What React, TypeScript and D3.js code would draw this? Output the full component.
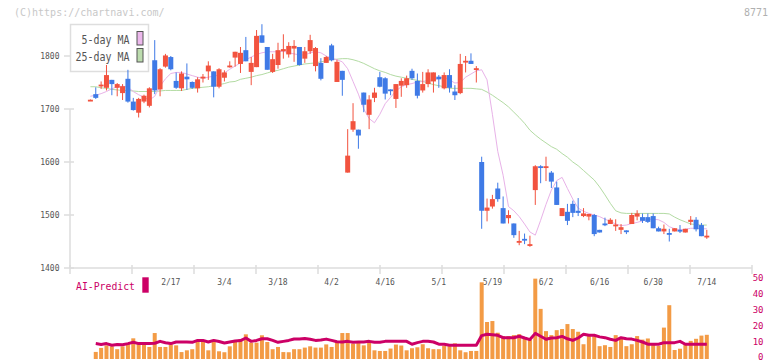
import React, { useEffect, useRef } from 'react';
import * as d3 from 'd3';

// date labels under the price panel, and the candle index each one sits on
const dateLabels = ['2/17', '3/4', '3/18', '4/2', '4/16', '5/1', '5/19', '6/2', '6/16', '6/30', '7/14'];
const dateIndex = [15, 25, 35, 45, 55, 65, 75, 85, 95, 105, 115];

const priceTicks = [1400, 1500, 1600, 1700, 1800];
const volumeTicks = [0, 10, 20, 30, 40, 50];

const opens = [
  1716.5, 1728, 1745, 1740, 1755, 1740, 1730, 1757, 1714, 1693, 1714, 1706, 1792, 1737, 1780, 1798, 1753, 1739, 1761, 1751,
  1739, 1759, 1771, 1771, 1742, 1759, 1780, 1797, 1785, 1811, 1770, 1779, 1839, 1817, 1770, 1783, 1809, 1803, 1814, 1817,
  1795, 1809, 1781, 1787, 1787, 1820, 1751, 1772, 1580, 1661, 1661, 1731, 1689, 1721, 1760, 1758, 1737, 1719, 1744, 1745,
  1772, 1753, 1735, 1747, 1752, 1761, 1739, 1764, 1733, 1730, 1788, 1791, 1774, 1600, 1508, 1516, 1550, 1513, 1494, 1484,
  1448, 1455, 1442, 1547, 1592, 1589, 1580, 1552, 1498, 1506, 1521, 1508, 1498, 1497, 1500, 1472, 1484, 1483, 1480, 1472,
  1471, 1483, 1497, 1496, 1496, 1498, 1475, 1469, 1466, 1469, 1472, 1467, 1487, 1491, 1481, 1459,
];
const highs = [
  1718, 1741, 1752, 1783, 1755, 1749, 1747, 1774, 1721, 1721, 1727, 1741, 1830, 1777, 1804, 1800, 1769, 1771, 1786, 1752,
  1760, 1766, 1790, 1771, 1777, 1773, 1790, 1808, 1817, 1836, 1798, 1849, 1860, 1817, 1804, 1825, 1841, 1826, 1830, 1817,
  1817, 1840, 1817, 1796, 1800, 1823, 1793, 1772, 1662, 1711, 1661, 1731, 1726, 1740, 1770, 1760, 1737, 1747, 1758, 1763,
  1776, 1767, 1770, 1775, 1769, 1764, 1769, 1775, 1745, 1804, 1800, 1805, 1781, 1610, 1531, 1538, 1561, 1535, 1509, 1484,
  1470, 1465, 1461, 1594, 1594, 1610, 1583, 1563, 1513, 1521, 1527, 1532, 1513, 1502, 1502, 1472, 1495, 1494, 1492, 1483,
  1471, 1504, 1509, 1503, 1503, 1503, 1478, 1482, 1474, 1475, 1481, 1474, 1498, 1496, 1485, 1472,
];
const lows = [
  1716, 1719, 1738, 1735, 1726, 1724, 1717, 1712, 1697, 1684, 1711, 1703, 1728, 1724, 1778, 1773, 1738, 1734, 1736, 1738,
  1731, 1750, 1755, 1722, 1739, 1752, 1778, 1780, 1768, 1790, 1745, 1779, 1825, 1774, 1768, 1776, 1795, 1797, 1789, 1782,
  1787, 1804, 1771, 1754, 1787, 1790, 1751, 1725, 1580, 1657, 1625, 1694, 1662, 1713, 1741, 1718, 1726, 1702, 1723, 1740,
  1755, 1720, 1731, 1741, 1731, 1740, 1737, 1731, 1717, 1728, 1769, 1785, 1750, 1474, 1488, 1512, 1525, 1484, 1484, 1457,
  1443, 1445, 1440, 1519, 1560, 1564, 1551, 1519, 1498, 1481, 1496, 1498, 1496, 1490, 1460, 1467, 1479, 1483, 1470, 1464,
  1464, 1483, 1490, 1485, 1485, 1475, 1469, 1464, 1450, 1469, 1466, 1467, 1481, 1469, 1460, 1455,
];
const closes = [
  1717.5, 1721, 1746, 1764, 1747, 1747, 1743, 1714, 1698, 1719, 1725, 1739, 1735, 1775, 1801, 1775, 1740, 1767, 1756, 1740,
  1756, 1761, 1782, 1742, 1775, 1769, 1782, 1808, 1806, 1790, 1787, 1838, 1825, 1774, 1794, 1811, 1813, 1819, 1819, 1783,
  1809, 1830, 1815, 1757, 1798, 1792, 1789, 1755, 1612, 1677, 1650, 1708, 1718, 1731, 1742, 1729, 1734, 1747, 1753, 1758,
  1758, 1725, 1747, 1769, 1769, 1756, 1764, 1740, 1726, 1785, 1791, 1785, 1777, 1508, 1514, 1530, 1530, 1484, 1500, 1462,
  1451, 1452, 1445, 1592, 1589, 1592, 1563, 1519, 1513, 1489, 1504, 1504, 1503, 1502, 1464, 1467, 1481, 1491, 1482, 1477,
  1470, 1500, 1503, 1489, 1487, 1475, 1469, 1474, 1464, 1475, 1469, 1474, 1491, 1473, 1460, 1461,
];

const ma5 = [
  1724, 1726, 1729, 1733, 1738, 1742, 1743, 1741, 1733, 1727, 1722, 1717, 1724, 1743, 1757, 1767, 1769, 1769, 1766, 1763,
  1760, 1758, 1760, 1762, 1764, 1768, 1775, 1781, 1787, 1793, 1798, 1803, 1806, 1808, 1808, 1808, 1809, 1806, 1804, 1802,
  1802, 1806, 1808, 1806, 1800, 1796, 1793, 1789, 1776, 1752, 1728, 1700, 1682, 1674, 1690, 1710, 1722, 1734, 1742, 1746,
  1748, 1751, 1752, 1754, 1755, 1758, 1760, 1755, 1749, 1750, 1760, 1766, 1772, 1774, 1755, 1690, 1620, 1575, 1516, 1508,
  1497, 1483, 1468, 1462, 1490, 1520, 1547, 1565, 1571, 1550, 1530, 1513, 1507, 1503, 1500, 1497, 1492, 1488, 1483, 1480,
  1481, 1484, 1486, 1489, 1492, 1492, 1491, 1486, 1478, 1474, 1472, 1473, 1475, 1475, 1474, 1474,
];
const ma25 = [
  1742, 1742, 1740, 1739, 1737, 1736, 1735, 1735, 1734, 1733, 1733, 1733, 1733, 1734, 1735, 1735, 1735, 1735, 1737, 1739,
  1740, 1741, 1742, 1744, 1746, 1748, 1751, 1752, 1756, 1758, 1760, 1763, 1765, 1768, 1771, 1773, 1776, 1779, 1781, 1783,
  1785, 1786, 1787, 1789, 1791, 1793, 1794, 1795, 1795, 1793, 1790, 1786, 1781, 1776, 1772, 1769, 1765, 1762, 1760, 1758,
  1756, 1754, 1752, 1749, 1746, 1744, 1742, 1739, 1739, 1739, 1739, 1739, 1738, 1737, 1732, 1726, 1719, 1712, 1704, 1694,
  1684, 1673, 1660, 1651, 1643, 1636, 1629, 1624, 1616, 1609, 1600, 1593, 1584, 1575, 1566, 1553, 1538, 1522, 1508, 1504,
  1503, 1503, 1503, 1503, 1503, 1503, 1503, 1503, 1502, 1496, 1491, 1487, 1483, 1482, 1481, 1481,
];

// lower panel, read on the 0-50 right axis
const volume = [
  null, 3.8, 6.3, 7.9, 7.3, 5.5, 7.3, 9.0, 12.3, 9.0, 9.0, 6.9, 15.6, 6.9, 6.9, 8.5, 7.9, 3.7, 4.8, 5.5,
  10.0, 10.4, 4.8, 10.4, 4.2, 3.6, 7.3, 10.4, 11.7, 14.8, 9.6, 9.6, 14.2, 10.0, 5.5, 6.9, 3.7, 3.6, 5.5, 5.5,
  6.5, 7.3, 6.5, 6.5, 8.5, 6.9, 10.0, 15.6, 15.6, 9.0, 10.4, 7.9, 9.4, 4.8, 4.4, 4.4, 5.9, 8.4, 7.8, 4.8,
  6.1, 6.7, 8.6, 6.1, 5.5, 5.5, 7.6, 7.4, 9.2, 4.8, 3.6, 4.4, 4.4, 47.3, 22.5, 23.1, 15.8, 13.7, 13.7, 14.3,
  14.9, 12.2, 11.3, 49.6, 30.7, 16.8, 14.3, 17.4, 18.1, 21.2, 18.1, 16.4, 8.6, 13.7, 13.7, 7.4, 8.0, 6.9, 14.3, 12.6,
  7.4, 8.6, 13.7, 11.5, 12.2, 8.5, 7.5, 19.0, 33.0, 5.0, 5.8, 9.0, 10.7, 12.0, 14.0, 14.5,
];
const aiPredict = [
  null, 9.0, 8.5, 9.0, 8.0, 8.5, 8.3, 9.0, 9.8, 9.0, 9.0, 9.0, 9.2, 10.4, 9.5, 9.0, 10.0, 10.0, 10.0, 9.8,
  11.0, 11.0, 10.0, 11.0, 10.3, 9.4, 10.0, 10.6, 10.9, 12.5, 10.4, 11.0, 12.0, 12.0, 11.0, 9.8, 10.4, 11.0, 11.9, 11.9,
  12.2, 11.7, 11.0, 11.2, 11.8, 11.0, 10.2, 10.0, 10.4, 9.8, 10.0, 10.0, 10.4, 9.8, 9.8, 10.4, 10.4, 10.4, 10.4, 10.4,
  8.6, 9.6, 10.4, 10.4, 10.0, 8.6, 8.6, 8.0, 8.0, 8.0, 8.0, 8.0, 8.0, 14.0, 14.8, 14.5, 14.2, 12.7, 12.7, 12.7,
  13.6, 12.5, 11.5, 15.4, 13.6, 11.7, 12.5, 12.7, 13.5, 12.0, 11.0, 12.5, 14.8, 14.2, 14.2, 13.2, 12.7, 11.7, 11.0, 12.7,
  12.0, 11.8, 11.0, 10.0, 8.6, 8.6, 8.6, 9.6, 9.6, 9.6, 10.4, 8.6, 8.6, 8.6, 8.6, 8.6,
];

const UP = '#f2533f';
const DOWN = '#3f7ae6';
const FONT = "'DejaVu Sans Mono', monospace";

const App = () => {
  const svgRef = useRef<SVGSVGElement>(null);

  useEffect(() => {
    const svg = d3.select(svgRef.current);
    svg.selectAll('*').remove();

    const n = closes.length;
    const idx = d3.range(n);

    const x = d3.scaleLinear().domain([0, n - 1]).range([90.4, 706.8]);
    const y = d3.scaleLinear().domain([1400, 1800]).range([268, 56]);
    const yv = d3.scaleLinear().domain([0, 50]).range([358, 278]);
    // evenly spaced x ticks along the bottom axis
    const xt = d3.scaleLinear().domain([0, 11]).range([70, 752]);

    svg.append('rect').attr('width', 772).attr('height', 361).attr('fill', '#fff');

    // header texts
    svg.append('text').attr('x', 14).attr('y', 16).attr('font-size', 10).attr('fill', '#c8c8c8')
      .attr('font-family', FONT).text('(C)https://chartnavi.com/');
    svg.append('text').attr('x', 768).attr('y', 16).attr('font-size', 10).attr('fill', '#b0b0b0')
      .attr('text-anchor', 'end').attr('font-family', FONT).text('8771');

    // axes
    svg.append('line').attr('x1', 70).attr('x2', 70).attr('y1', y(1700)).attr('y2', 268)
      .attr('stroke', '#dcdcdc').attr('stroke-width', 1.5);
    svg.append('line').attr('x1', 70).attr('x2', 752).attr('y1', 268).attr('y2', 268)
      .attr('stroke', '#dcdcdc').attr('stroke-width', 1.5);

    svg.append('g').selectAll('line').data(priceTicks).enter().append('line')
      .attr('x1', 64).attr('x2', 74).attr('y1', d => y(d)).attr('y2', d => y(d))
      .attr('stroke', '#dcdcdc').attr('stroke-width', 1.5);
    svg.append('g').selectAll('text').data(priceTicks).enter().append('text')
      .attr('x', 59.5).attr('y', d => y(d) + 3).attr('text-anchor', 'end')
      .attr('font-size', 8).attr('font-family', FONT).attr('fill', '#555')
      .text(d => d);

    svg.append('g').selectAll('line').data(d3.range(12)).enter().append('line')
      .attr('x1', d => xt(d)).attr('x2', d => xt(d)).attr('y1', 265).attr('y2', 274)
      .attr('stroke', '#dcdcdc').attr('stroke-width', 1.5);
    svg.append('g').selectAll('text').data(dateLabels).enter().append('text')
      .attr('x', (d, i) => x(dateIndex[i])).attr('y', 285).attr('text-anchor', 'middle')
      .attr('font-size', 8).attr('font-family', FONT).attr('fill', '#555')
      .text(d => d);

    // legend
    const lg = svg.append('g');
    lg.append('rect').attr('x', 70.5).attr('y', 24.5).attr('width', 78).attr('height', 47)
      .attr('fill', '#fff').attr('stroke', '#dedede').attr('stroke-width', 1.5);
    lg.append('text').attr('x', 129.5).attr('y', 43.5).attr('text-anchor', 'end')
      .attr('font-size', 11.5).attr('font-family', FONT).attr('fill', '#555')
      .attr('textLength', 48).attr('lengthAdjust', 'spacingAndGlyphs').text('5-day MA');
    lg.append('text').attr('x', 129.5).attr('y', 60.5).attr('text-anchor', 'end')
      .attr('font-size', 11.5).attr('font-family', FONT).attr('fill', '#555')
      .attr('textLength', 54).attr('lengthAdjust', 'spacingAndGlyphs').text('25-day MA');
    lg.append('rect').attr('x', 137).attr('y', 31.5).attr('width', 6).attr('height', 13.5)
      .attr('fill', '#ecb8ec').attr('stroke', '#555').attr('stroke-width', 1);
    lg.append('rect').attr('x', 137).attr('y', 48.5).attr('width', 6).attr('height', 13.5)
      .attr('fill', '#bcdcae').attr('stroke', '#555').attr('stroke-width', 1);

    // moving averages
    const line = d3.line<number>().x((d, i) => x(i)).y(d => y(d));
    svg.append('path').datum(ma25).attr('d', line).attr('fill', 'none')
      .attr('stroke', '#b3dba3').attr('stroke-width', 1);
    svg.append('path').datum(ma5).attr('d', line).attr('fill', 'none')
      .attr('stroke', '#e8b2e8').attr('stroke-width', 1);

    // candles
    const candles = svg.append('g').selectAll('g').data(idx).enter().append('g');
    candles.append('rect')
      .attr('x', i => x(i) - 0.5).attr('width', 1)
      .attr('y', i => y(highs[i])).attr('height', i => Math.max(1, y(lows[i]) - y(highs[i])))
      .attr('fill', i => (closes[i] >= opens[i] ? UP : DOWN));
    candles.append('rect')
      .attr('x', i => x(i) - 2.5).attr('width', 5)
      .attr('y', i => y(Math.max(opens[i], closes[i])))
      .attr('height', i => Math.max(1.8, Math.abs(y(opens[i]) - y(closes[i]))))
      .attr('fill', i => (closes[i] >= opens[i] ? UP : DOWN));

    // lower panel
    svg.append('text').attr('x', 76).attr('y', 290).attr('font-size', 11).attr('font-family', FONT)
      .attr('fill', '#cc0066').attr('textLength', 59).attr('lengthAdjust', 'spacingAndGlyphs').text('AI-Predict');
    svg.append('rect').attr('x', 142.3).attr('y', 277.3).attr('width', 6.4).attr('height', 15.4).attr('fill', '#cc0066');

    svg.append('g').selectAll('text').data(volumeTicks).enter().append('text')
      .attr('x', 763.5).attr('y', d => Math.min(yv(d) + 3.2, 359.5)).attr('text-anchor', 'end')
      .attr('font-size', 9).attr('font-family', FONT).attr('fill', '#cc0066')
      .text(d => d);

    svg.append('g').selectAll('rect').data(idx.filter(i => volume[i] != null)).enter().append('rect')
      .attr('x', i => x(i) - 2).attr('width', 4)
      .attr('y', i => yv(volume[i] as number)).attr('height', i => yv(0) - yv(volume[i] as number) + 1)
      .attr('fill', '#f39b45');

    const aiLine = d3.line<number | null>()
      .defined(d => d != null)
      .x((d, i) => x(i)).y(d => yv(d as number));
    svg.append('path').datum(aiPredict).attr('d', aiLine).attr('fill', 'none')
      .attr('stroke', '#cc0066').attr('stroke-width', 3).attr('stroke-linejoin', 'round');
  }, []);

  return (
    <svg ref={svgRef} width={772} height={361} style={{ position: 'absolute', left: 0, top: 0 }}></svg>
  );
};

export default App;
